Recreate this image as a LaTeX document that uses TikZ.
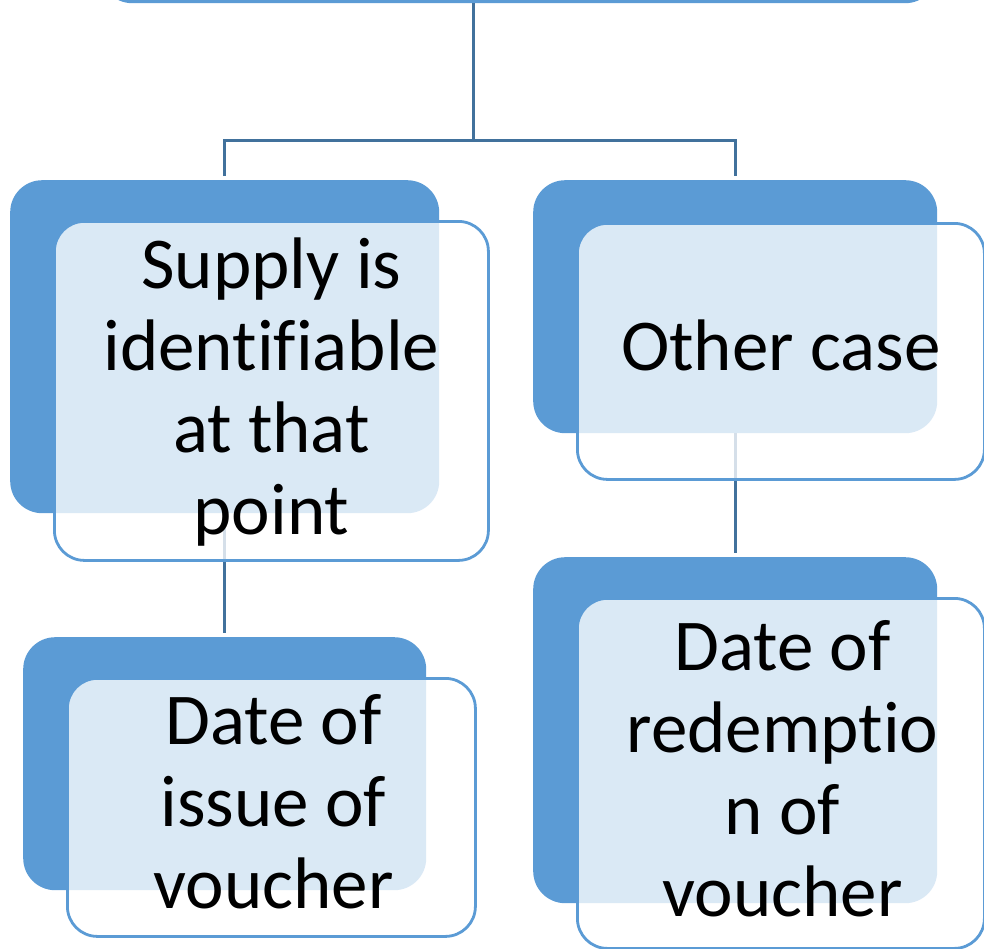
\documentclass[tikz,border=0pt]{standalone}
\usepackage{fontspec}
\setmainfont{Carlito}[Ligatures={NoCommon}, RawFeature={-liga;-dlig;-clig}]
\definecolor{accent}{HTML}{5B9BD5}
\definecolor{conn}{HTML}{41719C}
\begin{document}
\begin{tikzpicture}[x=1pt,y=-1pt,
  backbox/.style={fill=accent, rounded corners=32pt, inner sep=0pt, anchor=north west},
  frontbox/.style={draw=accent, line width=2.8pt, fill=white, fill opacity=0.78, rounded corners=30pt, inner sep=0pt, anchor=north west},
  boxtext/.style={font=\fontsize{73}{82}\selectfont, align=center, inner sep=0pt, text=black},
  link/.style={draw=conn, line width=3pt}]
\useasboundingbox (0,0) rectangle (984,948);
% back boxes
\node[backbox, minimum width=837pt, minimum height=63pt] (b0) at (100,-60) {};
\node[backbox, minimum width=429pt, minimum height=333pt] (b1) at (10,180) {};
\node[backbox, minimum width=404pt, minimum height=253pt] (b2) at (533,180) {};
\node[backbox, minimum width=403pt, minimum height=253pt] (b3) at (23,637) {};
\node[backbox, minimum width=404pt, minimum height=346pt] (b4) at (533,557) {};
% connectors
\coordinate (j) at (473,140);
\draw[link] (j |- b0.south) -- (j);
\draw[link, shorten <=4pt, shorten >=4pt] (b1.north) |- (j) -| (b2.north);
\draw[link, shorten >=4pt] (b1.south) -- (b3.north);
\draw[link, shorten >=4pt] (b2.south) -- (b4.north);
% front boxes
\node[frontbox, minimum width=434pt, minimum height=339pt] (f1) at (53,220) {};
\node[frontbox, minimum width=407pt, minimum height=256pt] (f2) at (576,222) {};
\node[frontbox, minimum width=408pt, minimum height=258pt] (f3) at (66,677) {};
\node[frontbox, minimum width=407pt, minimum height=350pt] (f4) at (576,597) {};
% texts
\node[boxtext] (t1) at ([yshift=-1.5pt]f1.center) {Supply is\\identifiable\\at that\\point};
\node[boxtext] (t2) at ([yshift=6pt]f2.center) {Other case};
\node[boxtext] (t3) at ([yshift=6pt,xshift=2pt]f3.center) {Date of\\issue of\\voucher};
\node[boxtext] (t4) at ([yshift=4.5pt,xshift=1.5pt]f4.center) {Date of\\redemptio\\n of\\voucher};
\end{tikzpicture}
\end{document}
